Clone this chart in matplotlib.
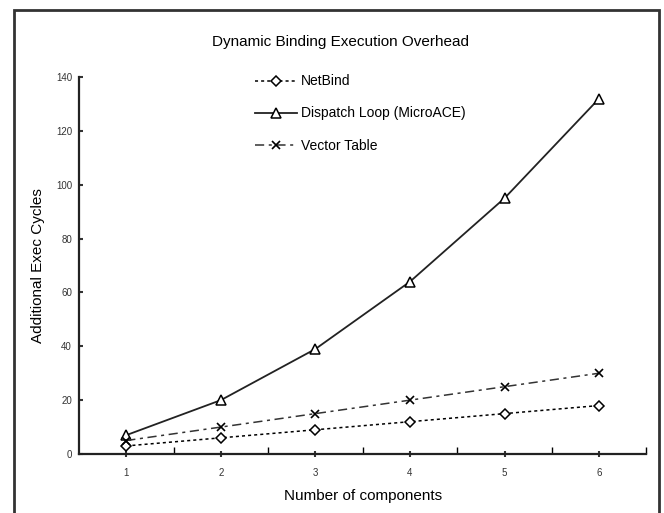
import matplotlib.pyplot as plt
from matplotlib.patches import Rectangle

plt.rcParams['font.family'] = ['Liberation Sans', 'DejaVu Sans']

components = [1, 2, 3, 4, 5, 6]
netbind = [3, 6, 9, 12, 15, 18]
dispatch_loop = [7, 20, 39, 64, 95, 132]
vector_table = [5, 10, 15, 20, 25, 30]
y_ticks = [0, 20, 40, 60, 80, 100, 120, 140]

fig = plt.figure(figsize=(6.64, 5.13), dpi=100)
ax = fig.add_axes([79 / 664, 1 - 454 / 513, (646.4 - 79) / 664, (454 - 77) / 513])

ax.plot(components, netbind, label="NetBind", color="black", linewidth=1.1, linestyle=(0, (2, 2)),
        marker="D", markersize=5, markerfacecolor="white", markeredgecolor="black", markeredgewidth=1.1)
ax.plot(components, dispatch_loop, label="Dispatch Loop (MicroACE)", color="#222222", linewidth=1.3, linestyle="-",
        marker="^", markersize=7, markerfacecolor="white", markeredgecolor="black", markeredgewidth=1.1)
ax.plot(components, vector_table, label="Vector Table", color="#333333", linewidth=1.1, linestyle=(0, (6, 3, 2, 3)),
        marker="x", markersize=6, markeredgecolor="black", markeredgewidth=1.2)

ax.set_xlim(0.5, 6.5)
ax.set_ylim(0, 140)
ax.set_xticks(components)
ax.set_xticks([1.5, 2.5, 3.5, 4.5, 5.5, 6.5], minor=True)
ax.set_yticks(y_ticks)
ax.tick_params(axis="both", labelsize=7, colors="#333333")
ax.tick_params(axis="y", direction="in", length=3, width=1.5, pad=5)
ax.tick_params(axis="x", direction="inout", length=4, width=1.5, pad=8)
ax.tick_params(axis="x", which="minor", direction="in", length=5, width=1)
for side in ["top", "right"]:
    ax.spines[side].set_visible(False)
for side in ["left", "bottom"]:
    ax.spines[side].set_linewidth(1.6)
    ax.spines[side].set_color("#222222")

ax.set_xlabel("Number of components", fontsize=11, labelpad=8)
ax.set_ylabel("Additional Exec Cycles", fontsize=11, labelpad=8)
fig.text(340 / 664, 1 - 42 / 513, "Dynamic Binding Execution Overhead", fontsize=11, ha="center", va="center")

ax.legend(loc="upper left", bbox_to_anchor=(0.288, 1.04), frameon=False, fontsize=10,
          labelspacing=1.3, handlelength=3.0, handletextpad=0.3)

fig.patches.append(Rectangle((14 / 664, -0.05), (659 - 14) / 664, 1 - 10 / 513 + 0.05,
                             transform=fig.transFigure, fill=False, edgecolor="#333333", linewidth=2))

plt.savefig("out.png", dpi=100)
